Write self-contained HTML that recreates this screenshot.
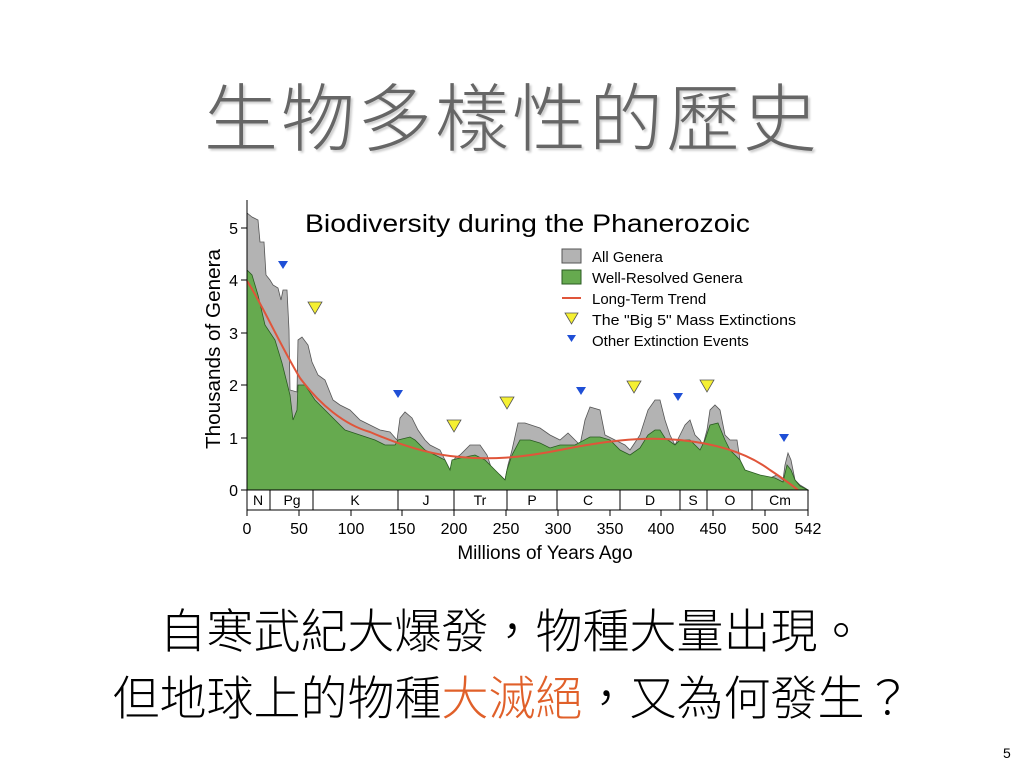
<!DOCTYPE html>
<html><head><meta charset="utf-8"><style>
body{margin:0;width:1024px;height:768px;background:#fff;overflow:hidden;position:relative;font-family:"Liberation Sans","Noto Sans CJK TC",sans-serif}
.t{position:absolute;left:0;width:1024px;text-align:center;white-space:nowrap}
</style></head><body>
<div class="t" style="top:75px;font-size:74px;line-height:90px;color:#666;letter-spacing:3px;font-weight:300;text-shadow:2px 2px 2px #ccc">生物多樣性的歷史</div>
<svg style="position:absolute;left:0;top:0" width="1024" height="768">
<g font-family="Liberation Sans, sans-serif">
<polygon fill="#b3b3b3" stroke="#555" stroke-width="0.8" points="247,490 247,213 252,217 258,220 260,242 264,242 266,275 270,280 273,285 278,288 281,300 283,290 287,290 289,330 290,390 297,392 298,340 302,337 308,345 312,362 318,375 325,380 333,400 340,405 350,410 360,420 370,425 380,430 390,432 397,440 400,418 405,412 412,418 418,430 425,440 430,445 440,450 445,460 450,470 455,458 460,455 470,445 480,445 487,455 492,470 500,475 505,480 508,465 512,450 518,423 525,423 540,428 550,435 560,440 568,433 575,440 580,445 585,420 590,407 600,410 605,435 615,440 625,445 630,450 640,435 648,410 655,400 660,400 665,420 670,435 675,445 680,435 685,425 690,420 695,435 700,440 703,445 707,430 710,410 715,405 720,410 725,435 730,440 737,440 740,460 745,470 750,475 760,478 770,478 777,475 783,480 785,465 788,453 791,460 795,480 800,485 805,488 808,490"/>
<polygon fill="#66aa4f" stroke="#2a5a22" stroke-width="0.8" points="247,490 247,270 252,275 258,295 265,325 275,340 282,363 290,395 293,420 297,410 298,385 305,385 315,400 325,410 335,420 345,430 360,435 375,440 385,445 395,445 398,440 410,437 415,440 425,450 435,455 445,460 450,470 452,460 460,458 475,455 485,460 495,470 500,475 505,480 507,470 512,455 520,440 530,440 540,443 550,448 560,445 575,445 590,437 600,437 610,440 620,450 630,455 640,448 648,435 655,430 660,430 665,438 675,445 680,440 690,440 695,445 700,450 705,440 710,425 718,423 725,440 730,450 740,460 745,470 760,475 775,478 783,482 787,465 791,470 795,480 800,486 808,490"/>
<path d="M247,281 C260,300 280,345 300,378 C320,405 345,425 370,432 C400,445 430,455 460,457 C490,460 520,458 560,450 C600,442 640,436 680,440 C720,444 750,455 770,470 C785,480 795,487 800,492" fill="none" stroke="#e0553a" stroke-width="2"/>
<g fill="#1f4fd6"><path d="M278,261h10l-5,8z"/><path d="M393,390h10l-5,8z"/><path d="M576,387h10l-5,8z"/><path d="M673,393h10l-5,8z"/><path d="M779,434h10l-5,8z"/></g>
<g fill="#f5f032" stroke="#555" stroke-width="0.8"><path d="M308,302h14l-7,12z"/><path d="M447,420h14l-7,12z"/><path d="M500,397h14l-7,12z"/><path d="M627,381h14l-7,12z"/><path d="M700,380h14l-7,12z"/></g>
<line x1="247" y1="200" x2="247" y2="512" stroke="#000"/>
<g stroke="#000"><line x1="241" y1="490" x2="247" y2="490"/><line x1="241" y1="438" x2="247" y2="438"/><line x1="241" y1="385" x2="247" y2="385"/><line x1="241" y1="333" x2="247" y2="333"/><line x1="241" y1="280" x2="247" y2="280"/><line x1="241" y1="228" x2="247" y2="228"/></g>
<g font-size="16" text-anchor="end"><text x="238" y="496">0</text><text x="238" y="444">1</text><text x="238" y="391">2</text><text x="238" y="339">3</text><text x="238" y="286">4</text><text x="238" y="234">5</text></g>
<text transform="translate(220,349) rotate(-90)" font-size="20" text-anchor="middle" textLength="200" lengthAdjust="spacingAndGlyphs">Thousands of Genera</text>
<text x="305" y="232" font-size="25" textLength="445" lengthAdjust="spacingAndGlyphs">Biodiversity during the Phanerozoic</text>
<rect x="562" y="249" width="19" height="14" fill="#b3b3b3" stroke="#555"/>
<rect x="562" y="270" width="19" height="14" fill="#66aa4f" stroke="#2a5a22"/>
<line x1="562" y1="298" x2="581" y2="298" stroke="#e0553a" stroke-width="2"/>
<path d="M565,313h13l-6.5,11z" fill="#f5f032" stroke="#555" stroke-width="0.8"/>
<path d="M567,335h9l-4.5,7z" fill="#1f4fd6"/>
<g font-size="15"><text x="592" y="262">All Genera</text><text x="592" y="283">Well-Resolved Genera</text><text x="592" y="304">Long-Term Trend</text><text x="592" y="325" textLength="204" lengthAdjust="spacingAndGlyphs">The "Big 5" Mass Extinctions</text><text x="592" y="346">Other Extinction Events</text></g>
<rect x="247" y="490" width="561" height="20" fill="#fff" stroke="#000"/>
<g stroke="#000"><line x1="270" y1="490" x2="270" y2="510"/><line x1="313" y1="490" x2="313" y2="510"/><line x1="398" y1="490" x2="398" y2="510"/><line x1="454" y1="490" x2="454" y2="510"/><line x1="507" y1="490" x2="507" y2="510"/><line x1="557" y1="490" x2="557" y2="510"/><line x1="620" y1="490" x2="620" y2="510"/><line x1="680" y1="490" x2="680" y2="510"/><line x1="707" y1="490" x2="707" y2="510"/><line x1="752" y1="490" x2="752" y2="510"/></g>
<g font-size="14" text-anchor="middle"><text x="258" y="505">N</text><text x="292" y="505">Pg</text><text x="355" y="505">K</text><text x="426" y="505">J</text><text x="480" y="505">Tr</text><text x="532" y="505">P</text><text x="588" y="505">C</text><text x="650" y="505">D</text><text x="693" y="505">S</text><text x="730" y="505">O</text><text x="780" y="505">Cm</text></g>
<g stroke="#000"><line x1="247" y1="510" x2="247" y2="516"/><line x1="299" y1="510" x2="299" y2="516"/><line x1="351" y1="510" x2="351" y2="516"/><line x1="402" y1="510" x2="402" y2="516"/><line x1="454" y1="510" x2="454" y2="516"/><line x1="506" y1="510" x2="506" y2="516"/><line x1="558" y1="510" x2="558" y2="516"/><line x1="610" y1="510" x2="610" y2="516"/><line x1="661" y1="510" x2="661" y2="516"/><line x1="713" y1="510" x2="713" y2="516"/><line x1="765" y1="510" x2="765" y2="516"/><line x1="808" y1="510" x2="808" y2="516"/></g>
<g font-size="16" text-anchor="middle"><text x="247" y="534">0</text><text x="299" y="534">50</text><text x="351" y="534">100</text><text x="402" y="534">150</text><text x="454" y="534">200</text><text x="506" y="534">250</text><text x="558" y="534">300</text><text x="610" y="534">350</text><text x="661" y="534">400</text><text x="713" y="534">450</text><text x="765" y="534">500</text><text x="808" y="534">542</text></g>
<text x="545" y="559" font-size="19" text-anchor="middle">Millions of Years Ago</text>
</g>
</svg>
<div class="t" style="top:602px;font-size:47px;line-height:60px;color:#000;font-weight:300">自寒武紀大爆發，物種大量出現。</div>
<div class="t" style="top:669px;font-size:47px;line-height:60px;color:#000;font-weight:300">但地球上的物種<span style="color:#e0602a">大滅絕</span>，又為何發生？</div>
<div style="position:absolute;left:1003px;top:745px;font-size:14px">5</div>
</body></html>
